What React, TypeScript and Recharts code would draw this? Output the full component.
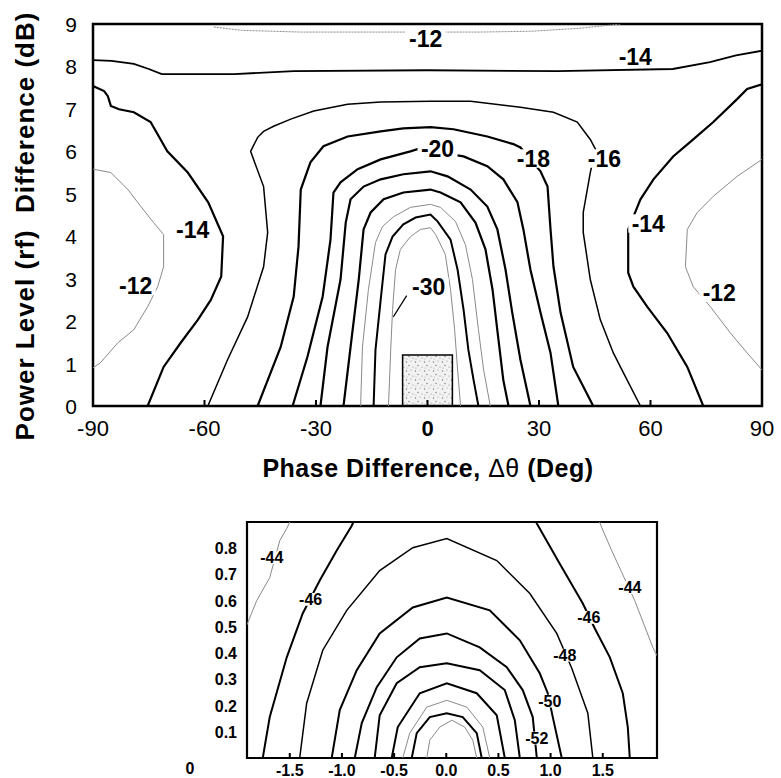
import React from "react";
import {
  ComposedChart,
  Line,
  Scatter,
  XAxis,
  YAxis,
  ReferenceArea,
} from "recharts";

const FONT = '"Liberation Sans", Arial, Helvetica, sans-serif';
const INK = "#000";
const GRAY = "#8a8a8a";

// ---- main chart: phase difference (deg) vs power level difference (dB)
const phaseTicks = [-90, -60, -30, 0, 30, 60, 90];
const powerTicks = [0, 1, 2, 3, 4, 5, 6, 7, 8, 9];

const c12Top = [[-57.5, 8.93], [-50, 8.85], [-34, 8.81], [-7, 8.81], [14, 8.81], [28, 8.83], [41, 8.9], [52, 9.0]];
const c14Top = [[-90, 8.15], [-85, 8.13], [-79, 8.06], [-75, 7.94], [-71.5, 7.82], [-52, 7.82], [-36, 7.89], [0, 7.91], [35, 7.89], [66, 7.94], [76, 8.1], [83, 8.26], [90, 8.37]];
const c14Left = [[-90, 7.54], [-87, 7.42], [-86, 7.3], [-85.2, 7.07], [-83, 6.99], [-79, 6.92], [-74.5, 6.69], [-70, 6.0], [-64.5, 5.5], [-59, 4.8], [-55, 4.0], [-55.5, 3.05], [-58.3, 2.5], [-61.8, 2.03], [-66.4, 1.49], [-71, 0.92], [-75.3, 0]];
const c12Left = [[-90, 5.58], [-85.2, 5.5], [-80.6, 5.1], [-78, 4.8], [-73.7, 4.32], [-71, 4.04], [-71, 3.28], [-72.6, 2.81], [-75.3, 2.34], [-79, 1.8], [-83.3, 1.49], [-88, 1.02], [-90, 0.9]];
const c16 = [[-59.1, 0], [-53.8, 1.09], [-48.4, 2.1], [-44.1, 3.28], [-43, 4.09], [-44.1, 5.17], [-47.6, 6.0], [-45.7, 6.33], [-44.1, 6.47], [-41.4, 6.59], [-36.8, 6.76], [-30.6, 6.95], [-21.5, 7.11], [-12.6, 7.16], [0.8, 7.18], [11.6, 7.18], [25, 7.04], [33.9, 6.92], [40.3, 6.69], [43.8, 6.28], [45.2, 6.05], [43.8, 5.5], [41.9, 4.56], [41.9, 4.09], [43.8, 2.98], [46.5, 2.03], [50, 1.25], [51.9, 0.92], [57.3, 0]];
const c18 = [[-45.7, 0], [-39.5, 1.39], [-36, 2.58], [-34.7, 3.76], [-34.1, 5.1], [-31.5, 5.74], [-28, 6.12], [-21.5, 6.35], [-12.6, 6.47], [-6.5, 6.54], [0.8, 6.57], [7, 6.52], [16.1, 6.35], [23.1, 6.17], [25, 6.09], [30.4, 5.53], [32.3, 5.17], [33.1, 4.16], [33.9, 3.28], [35.8, 2.2], [39.2, 0.92], [44.6, 0]];
const c20 = [[-36.3, 0], [-32.3, 1.16], [-28.2, 2.58], [-26.1, 3.92], [-25.3, 5.03], [-23.4, 5.27], [-18.8, 5.58], [-12.6, 5.81], [-4.6, 6.0], [-2.7, 6.05], [9.7, 5.88], [16.1, 5.65], [20.4, 5.34], [24.2, 4.8], [25.8, 4.16], [27.7, 3.21], [30.4, 2.2], [33.1, 1.25], [35.2, 0]];
const c22 = [[-28.8, 0], [-26.9, 1.39], [-23.4, 2.98], [-22, 4.32], [-20.7, 4.87], [-17.2, 5.17], [-12.6, 5.34], [-6.5, 5.46], [0.8, 5.53], [5.4, 5.41], [11.6, 5.1], [16.1, 4.7], [18.8, 4.16], [21, 3.21], [22.8, 2.2], [25, 1.09], [27.7, 0]];
const c24 = [[-22.6, 0], [-20.7, 1.39], [-18.5, 2.98], [-17.2, 4.16], [-15.3, 4.56], [-11.8, 4.87], [-6.5, 5.03], [0.8, 5.1], [3.5, 5.03], [8.9, 4.8], [12.9, 4.32], [15.6, 3.69], [17.5, 2.74], [19.1, 1.56], [20.4, 0.61], [21.8, 0]];
const c26 = [[-18, 0], [-17.5, 1.39], [-15.9, 2.74], [-14, 3.85], [-12.1, 4.23], [-9.1, 4.46], [-4.6, 4.68], [0.8, 4.75], [3.5, 4.68], [7.5, 4.35], [10.2, 3.8], [12.1, 2.98], [13.7, 1.8], [15.1, 0.85], [16.9, 0]];
const c28 = [[-14.5, 0], [-14, 1.32], [-12.6, 2.5], [-11.3, 3.57], [-9.4, 3.99], [-6.5, 4.28], [-3.2, 4.44], [0.8, 4.51], [2.7, 4.35], [6.2, 3.92], [8.1, 3.21], [9.7, 2.27], [11, 1.32], [12.4, 0.61], [13.7, 0]];
const c30 = [[-10.5, 0], [-9.9, 1.32], [-9.4, 2.27], [-8.6, 3.21], [-7.3, 3.69], [-4.6, 3.99], [-1.9, 4.16], [0.8, 4.2], [2.2, 4.04], [4.8, 3.57], [6.2, 2.74], [7.3, 1.8], [8.1, 0.85], [8.9, 0]];
const c14Right = [[90, 7.58], [86, 7.47], [83.3, 7.23], [76.9, 6.69], [71.5, 6.28], [66.1, 5.88], [60.8, 5.34], [57.3, 4.87], [55.4, 4.46], [54, 4.16], [54, 3.14], [55.4, 2.81], [59.1, 2.34], [64.5, 1.72], [69.9, 0.92], [74.2, 0]];
const c12Right = [[90, 5.81], [83.3, 5.41], [76.9, 4.94], [72.6, 4.56], [69.9, 4.16], [69.4, 3.28], [71.5, 2.81], [76.1, 2.34], [81.5, 1.72], [86, 1.25], [90, 0.85]];
const leader30 = [[-9.2, 2.1], [-5.6, 2.6]];

const mainLabels = [
  { x: -0.5, y: 8.65, t: "-12" },
  { x: 55.9, y: 8.24, t: "-14" },
  { x: -63.2, y: 4.16, t: "-14" },
  { x: -78.5, y: 2.83, t: "-12" },
  { x: 2.7, y: 6.07, t: "-20" },
  { x: 28.5, y: 5.83, t: "-18" },
  { x: 47.6, y: 5.83, t: "-16" },
  { x: 59.4, y: 4.3, t: "-14" },
  { x: 78.5, y: 2.67, t: "-12" },
  { x: 0.3, y: 2.81, t: "-30" },
];

// zoomed region marked on the main chart
const boxPhase = [-6.7, 6.7];
const boxPower = [0, 1.2];

// ---- inset: the zoomed region
const insetXTicks = [-1.5, -1.0, -0.5, 0, 0.5, 1.0, 1.5];
const insetYTicks = [0, 0.1, 0.2, 0.3, 0.4, 0.5, 0.6, 0.7, 0.8];

const i44Left = [[-1.913, 0.506], [-1.817, 0.6], [-1.692, 0.688], [-1.596, 0.829], [-1.529, 0.875], [-1.5, 0.9]];
const i44Right = [[1.47, 0.9], [1.491, 0.878], [1.587, 0.79], [1.683, 0.707], [1.807, 0.6], [1.98, 0.422], [2.02, 0.39]];
const i46Left = [[-1.759, 0], [-1.692, 0.156], [-1.529, 0.384], [-1.376, 0.551], [-1.213, 0.677], [-1.05, 0.791], [-0.906, 0.886], [-0.89, 0.9]];
const i46Right = [[0.86, 0.9], [0.868, 0.894], [1.088, 0.741], [1.309, 0.589], [1.424, 0.494], [1.568, 0.384], [1.692, 0.247], [1.74, 0.118], [1.759, 0]];
const i48 = [[-1.405, 0], [-1.338, 0.209], [-1.184, 0.411], [-0.954, 0.563], [-0.638, 0.715], [-0.321, 0.802], [0.005, 0.837], [0.484, 0.753], [0.801, 0.627], [1.059, 0.475], [1.203, 0.342], [1.357, 0.171], [1.405, 0]];
const i50 = [[-1.098, 0], [-1.021, 0.183], [-0.858, 0.335], [-0.638, 0.475], [-0.321, 0.574], [0.005, 0.612], [0.417, 0.563], [0.705, 0.449], [0.896, 0.323], [0.973, 0.247], [1.021, 0.156], [1.107, 0]];
const i52 = [[-0.877, 0], [-0.81, 0.133], [-0.666, 0.27], [-0.475, 0.384], [-0.254, 0.456], [0.005, 0.475], [0.321, 0.422], [0.58, 0.346], [0.733, 0.259], [0.829, 0.156], [0.868, 0]];
const i54 = [[-0.686, 0], [-0.638, 0.163], [-0.475, 0.285], [-0.254, 0.346], [0.005, 0.361], [0.321, 0.335], [0.561, 0.259], [0.657, 0.144], [0.705, 0]];
const i56 = [[-0.523, 0], [-0.465, 0.118], [-0.254, 0.247], [0.005, 0.285], [0.292, 0.247], [0.484, 0.163], [0.561, 0]];
const i58 = [[-0.417, 0], [-0.35, 0.095], [-0.187, 0.194], [0.005, 0.22], [0.197, 0.194], [0.35, 0.118], [0.417, 0]];
const i60 = [[-0.331, 0], [-0.283, 0.095], [-0.158, 0.156], [0.005, 0.171], [0.158, 0.156], [0.292, 0.095], [0.34, 0]];
const i62 = [[-0.187, 0], [-0.158, 0.068], [-0.062, 0.118], [0.053, 0.144], [0.177, 0.118], [0.254, 0.068], [0.292, 0]];

const insetLabels = [
  { x: -1.673, y: 0.764, t: "-44" },
  { x: -1.3, y: 0.605, t: "-46" },
  { x: 1.76, y: 0.65, t: "-44" },
  { x: 1.366, y: 0.536, t: "-46" },
  { x: 1.136, y: 0.392, t: "-48" },
  { x: 0.992, y: 0.217, t: "-50" },
  { x: 0.868, y: 0.076, t: "-52" },
];

const toPts = (a: number[][]) => a.map(([x, y]) => ({ x, y }));

const mainSeries = [
  { id: "c12Top", d: c12Top, w: 1, c: GRAY, dash: "2 1" },
  { id: "c14Top", d: c14Top, w: 1.8, c: INK },
  { id: "c14Left", d: c14Left, w: 2.2, c: INK },
  { id: "c12Left", d: c12Left, w: 1, c: GRAY },
  { id: "c16", d: c16, w: 1.5, c: INK },
  { id: "c18", d: c18, w: 2.2, c: INK },
  { id: "c20", d: c20, w: 2.2, c: INK },
  { id: "c22", d: c22, w: 2.2, c: INK },
  { id: "c24", d: c24, w: 2.2, c: INK },
  { id: "c26", d: c26, w: 1, c: GRAY },
  { id: "c28", d: c28, w: 2, c: INK },
  { id: "c30", d: c30, w: 1, c: GRAY },
  { id: "c14Right", d: c14Right, w: 2.2, c: INK },
  { id: "c12Right", d: c12Right, w: 1, c: GRAY },
  { id: "leader30", d: leader30, w: 1.2, c: INK },
];

const insetSeries = [
  { id: "i44Left", d: i44Left, w: 1, c: GRAY },
  { id: "i44Right", d: i44Right, w: 1, c: GRAY },
  { id: "i46Left", d: i46Left, w: 2, c: INK },
  { id: "i46Right", d: i46Right, w: 2, c: INK },
  { id: "i48", d: i48, w: 1.5, c: INK },
  { id: "i50", d: i50, w: 2, c: INK },
  { id: "i52", d: i52, w: 2, c: INK },
  { id: "i54", d: i54, w: 2, c: INK },
  { id: "i56", d: i56, w: 2, c: INK },
  { id: "i58", d: i58, w: 1, c: GRAY },
  { id: "i60", d: i60, w: 2, c: INK },
  { id: "i62", d: i62, w: 1, c: GRAY },
];

function ContourLabel(props: any) {
  const { cx, cy, payload, size } = props;
  const w = payload.t.length * size * 0.55;
  return (
    <g>
      <rect x={cx - w / 2 - 1} y={cy - size * 0.4} width={w + 2} height={size * 0.8} fill="#fff" />
      <text x={cx} y={cy} dy={size * 0.36} textAnchor="middle" fontSize={size} fontWeight="bold" fontFamily={FONT} fill={INK}>
        {payload.t}
      </text>
    </g>
  );
}

function MainXTick({ x, y, payload }: any) {
  const v = payload.value;
  return (
    <g>
      {v !== -90 && v !== 90 && (
        <line x1={x} x2={x} y1={y - 6} y2={y - 12} stroke={INK} strokeWidth={2} />
      )}
      <text x={x} y={y + 24} textAnchor="middle" fontSize={22} fontWeight={v === 0 ? "bold" : "normal"} fontFamily={FONT} fill={INK}>
        {v}
      </text>
    </g>
  );
}

function MainYTick({ x, y, payload }: any) {
  return (
    <text x={x} y={y + 8} textAnchor="end" fontSize={21} fontFamily={FONT} fill={INK}>
      {payload.value}
    </text>
  );
}

function InsetXTick({ x, y, payload }: any) {
  return (
    <g>
      <line x1={x} x2={x} y1={y - 4} y2={y - 9} stroke={INK} strokeWidth={2} />
      <text x={x} y={y + 14} textAnchor="middle" fontSize={16} fontWeight="bold" fontFamily={FONT} fill={INK}>
        {payload.value.toFixed(1)}
      </text>
    </g>
  );
}

function InsetYTick({ x, y, payload }: any) {
  const v = payload.value;
  if (v === 0) {
    return (
      <text x={x - 47} y={y + 16} textAnchor="middle" fontSize={16} fontWeight="bold" fontFamily={FONT} fill={INK}>
        0
      </text>
    );
  }
  return (
    <text x={x} y={y + 6} textAnchor="end" fontSize={16} fontWeight="bold" fontFamily={FONT} fill={INK}>
      {v.toFixed(1)}
    </text>
  );
}

export default function App() {
  return (
    <div style={{ position: "absolute", left: 0, top: 0, width: 781, height: 778, background: "#fff", fontFamily: FONT }}>
      <div style={{ position: "absolute", left: 0, top: 0 }}>
        <ComposedChart width={781} height={460} margin={{ top: 24, right: 19, bottom: 0, left: 63 }}>
          <defs>
            <pattern id="speck" width="9" height="9" patternUnits="userSpaceOnUse">
              <rect width="9" height="9" fill="#f2f2f2" />
              <circle cx="1.5" cy="2" r="0.7" fill="#777" />
              <circle cx="6" cy="1" r="0.6" fill="#999" />
              <circle cx="4" cy="5.5" r="0.7" fill="#777" />
              <circle cx="8" cy="7" r="0.6" fill="#888" />
              <circle cx="2" cy="8" r="0.5" fill="#999" />
            </pattern>
          </defs>
          <XAxis
            type="number"
            dataKey="x"
            domain={[-90, 90]}
            ticks={phaseTicks}
            allowDataOverflow
            height={54}
            tickSize={0}
            tickMargin={6}
            tickLine={false}
            axisLine={false}
            tick={<MainXTick />}
            interval={0}
          />
          <YAxis
            type="number"
            dataKey="y"
            domain={[0, 9]}
            ticks={powerTicks}
            allowDataOverflow
            width={30}
            tickSize={0}
            tickMargin={16}
            tickLine={false}
            axisLine={false}
            tick={<MainYTick />}
            interval={0}
          />
          {mainSeries.map((s) => (
            <Line
              key={s.id}
              data={toPts(s.d)}
              dataKey="y"
              type="linear"
              dot={false}
              activeDot={false}
              stroke={s.c}
              strokeWidth={s.w}
              strokeDasharray={s.dash}
              isAnimationActive={false}
            />
          ))}
          <ReferenceArea
            x1={boxPhase[0]}
            x2={boxPhase[1]}
            y1={boxPower[0]}
            y2={boxPower[1]}
            fill="url(#speck)"
            fillOpacity={1}
            stroke={INK}
            strokeWidth={1.5}
          />
          <Scatter
            data={mainLabels}
            dataKey="y"
            isAnimationActive={false}
            shape={(p: any) => <ContourLabel {...p} size={23} />}
          />
          <ReferenceArea x1={-90} x2={90} y1={0} y2={9} fill="none" stroke={INK} strokeWidth={2.5} />
        </ComposedChart>
      </div>

      <div
        style={{
          position: "absolute",
          left: 25,
          top: 226,
          transform: "translate(-50%, -50%) rotate(-90deg)",
          whiteSpace: "nowrap",
          fontSize: 26,
          fontWeight: "bold",
          letterSpacing: 1,
          color: INK,
        }}
      >
        Power Level (rf)&nbsp; Difference (dB)
      </div>
      <div
        style={{
          position: "absolute",
          left: 428,
          top: 468,
          transform: "translate(-50%, -50%)",
          whiteSpace: "nowrap",
          fontSize: 25,
          fontWeight: "bold",
          letterSpacing: 0.5,
          color: INK,
        }}
      >
        Phase Difference, <span style={{ fontWeight: "normal" }}>Δθ</span> (Deg)
      </div>

      <div style={{ position: "absolute", left: 0, top: 470 }}>
        <ComposedChart width={781} height={308} margin={{ top: 52, right: 124, bottom: 0, left: 207 }}>
          <XAxis
            type="number"
            dataKey="x"
            domain={[-1.91, 2.02]}
            ticks={insetXTicks}
            allowDataOverflow
            height={20}
            tickSize={0}
            tickMargin={4}
            tickLine={false}
            axisLine={false}
            tick={<InsetXTick />}
            interval={0}
          />
          <YAxis
            type="number"
            dataKey="y"
            domain={[0, 0.9]}
            ticks={insetYTicks}
            allowDataOverflow
            width={40}
            tickSize={0}
            tickMargin={10}
            tickLine={false}
            axisLine={false}
            tick={<InsetYTick />}
            interval={0}
          />
          <YAxis
            yAxisId="right"
            orientation="right"
            type="number"
            domain={[0, 0.9]}
            ticks={insetYTicks}
            width={0}
            mirror
            tick={false}
            tickSize={5}
            tickLine={{ stroke: INK, strokeWidth: 2 }}
            axisLine={false}
          />
          {insetSeries.map((s) => (
            <Line
              key={s.id}
              data={toPts(s.d)}
              dataKey="y"
              type="linear"
              dot={false}
              activeDot={false}
              stroke={s.c}
              strokeWidth={s.w}
              isAnimationActive={false}
            />
          ))}
          <Scatter
            data={insetLabels}
            dataKey="y"
            isAnimationActive={false}
            shape={(p: any) => <ContourLabel {...p} size={16} />}
          />
          <ReferenceArea x1={-1.91} x2={2.02} y1={0} y2={0.9} fill="none" stroke={INK} strokeWidth={2.2} />
        </ComposedChart>
      </div>
    </div>
  );
}
